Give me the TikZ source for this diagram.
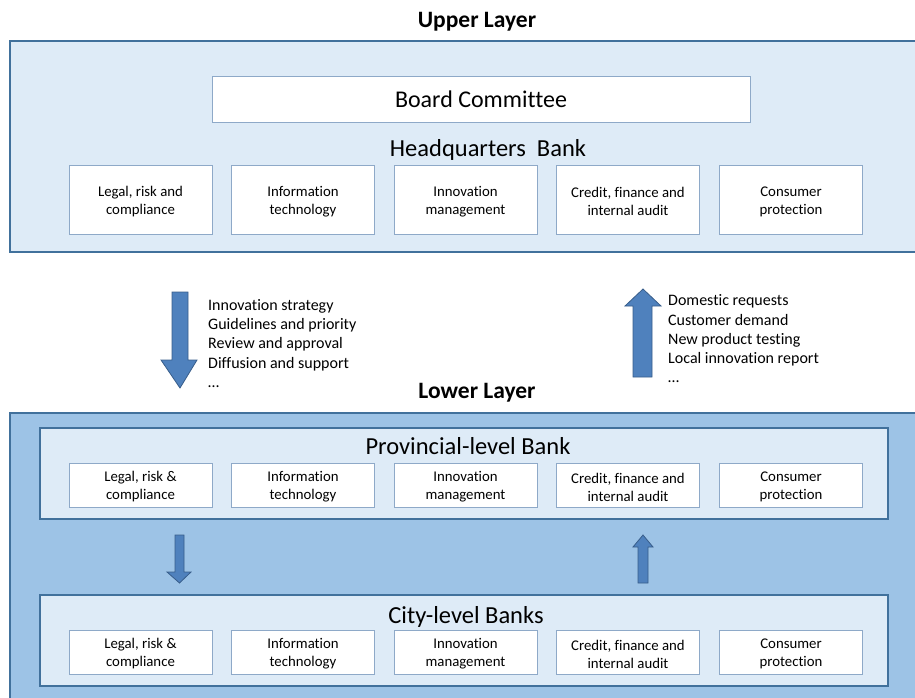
\documentclass[tikz,border=0pt]{standalone}
\usepackage{fontspec}
\setmainfont{Carlito}[Ligatures=NoCommon]
\definecolor{layerline}{HTML}{41719C}
\definecolor{paleblue}{HTML}{DEEBF7}
\definecolor{midblue}{HTML}{9DC3E6}
\definecolor{boxline}{HTML}{8EA9C8}
\definecolor{arrowfill}{HTML}{4F81BD}
\definecolor{arrowline}{HTML}{385D8A}
\tikzset{
  layer/.style={draw=layerline, line width=2.2pt},
  unitbox/.style={draw=boxline, fill=white, line width=0.8pt, minimum width=143pt, minimum height=69pt,
    inner sep=0pt},
  smallunit/.style={unitbox, minimum height=44pt},
  unittext/.style={align=center, font=\fontsize{14.8}{18}\selectfont, inner sep=0pt},
  title/.style={font=\fontsize{23.5}{26}\selectfont\bfseries},
  bankname/.style={font=\fontsize{24.5}{28}\selectfont},
  listtext/.style={align=left, anchor=north west, font=\fontsize{16}{19.3}\selectfont, inner sep=0pt},
  blockarrow/.style={fill=arrowfill, draw=arrowline, line width=0.8pt},
}
\begin{document}
\begin{tikzpicture}[x=1pt, y=-1pt]
\useasboundingbox (0,0) rectangle (915,697);

% upper layer
\node[title] (uptitle) at (477,22) {Upper Layer};
\draw[layer, fill=paleblue] (10,41) rectangle (917,252);
\node[unitbox, minimum width=538pt, minimum height=46pt, font=\fontsize{24}{28}\selectfont] (board) at (481,99) {Board Committee};
\node[bankname] (hq) at (488,150) {Headquarters\ \ Bank};
\foreach \x/\t [count=\i] in {140.5/{Legal, risk and\\compliance},
    303/{Information\\technology},
    465.5/{Innovation\\management},
    628/{Credit, finance and\\internal audit},
    791/{Consumer\\protection}}
  {
  \node[unitbox] (hq\i) at (\x,199.5) {};
  \node[unittext] (hqt\i) at ([yshift=-2pt]hq\i.center) {\t};
  }

% flows between the layers
\draw[blockarrow] (172,292) -- (188,292) -- (188,360) -- (197,360) -- (180,388) -- (161,360) -- (172,360) -- cycle;
\node[listtext] (downlist) at (208,299) {Innovation strategy\\Guidelines and priority\\Review and approval\\Diffusion and support\\\dots};
\draw[blockarrow] (633,377) -- (652,377) -- (652,306) -- (661,306) -- (643,289) -- (625,306) -- (633,306) -- cycle;
\node[listtext] (uplist) at (668,294.5) {Domestic requests\\Customer demand\\New product testing\\Local innovation report\\\dots};

% lower layer
\node[title] (lowtitle) at (477,393) {Lower Layer};
\draw[layer, fill=midblue] (10,413) rectangle (917,700);

\draw[layer, fill=paleblue] (40,428) rectangle (888,519);
\node[bankname] (prov) at (468,446) {Provincial-level Bank};
\draw[layer, fill=paleblue] (40,595) rectangle (888,686);
\node[bankname] (city) at (466,617) {City-level Banks};

\foreach \x/\t [count=\i] in {140.5/{Legal, risk \&\\compliance},
    303/{Information\\technology},
    465.5/{Innovation\\management},
    628/{Credit, finance and\\internal audit},
    791/{Consumer\\protection}}
  {
  \node[smallunit] (pr\i) at (\x,485) {};
  \node[unittext] (prt\i) at ([yshift=-2pt]pr\i.center) {\t};
  \node[smallunit] (ci\i) at (\x,652) {};
  \node[unittext] (cit\i) at ([yshift=-2pt]ci\i.center) {\t};
  }

\draw[blockarrow] (175,535) -- (184,535) -- (184,572) -- (191,572) -- (179.5,583) -- (167,572) -- (175,572) -- cycle;
\draw[blockarrow] (638,583) -- (648,583) -- (648,547) -- (653,547) -- (643,535) -- (633,547) -- (638,547) -- cycle;
\end{tikzpicture}
\end{document}
